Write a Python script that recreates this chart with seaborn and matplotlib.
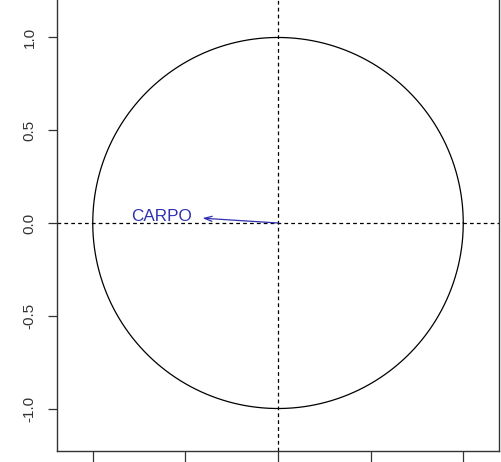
import numpy as np
import pandas as pd
import matplotlib
matplotlib.use("Agg")
import matplotlib.pyplot as plt
import seaborn as sns

# Data
variables = ["CARPO"]
dim1 = [-0.408]
dim2 = [0.026]
xticks = [-1.0, -0.5, 0.0, 0.5, 1.0]
yticks = [-1.0, -0.5, 0.0, 0.5, 1.0]
ytick_labels = ["-1.0", "-0.5", "0.0", "0.5", "1.0"]

sns.set_style("white")
plt.rcParams['font.family'] = ['Liberation Sans', 'DejaVu Sans']

fig = plt.figure(figsize=(5.01, 4.62), dpi=100)
ax = fig.add_axes([57/501, 11/462, (499-57)/501, 1 - 11/462])

# unit circle
theta = np.linspace(0, 2*np.pi, 400)
circle = pd.DataFrame({"x": np.cos(theta), "y": np.sin(theta)})
sns.lineplot(data=circle, x="x", y="y", sort=False, estimator=None,
             color="black", lw=0.9, ax=ax)

ax.axhline(0, color="black", lw=0.9, ls=(0, (3, 2.5)))
ax.axvline(0, color="black", lw=0.9, ls=(0, (3, 2.5)))

blue = "#3030b0"
for name, x, y in zip(variables, dim1, dim2):
    ax.annotate("", xy=(x, y), xytext=(0, 0),
                arrowprops=dict(arrowstyle="->,head_length=0.55,head_width=0.18",
                                color=blue, lw=0.9, shrinkA=0, shrinkB=0))
    ax.text(x * 1.54, y * 1.35, name, color=blue, fontsize=12.3,
            ha="center", va="center")

ax.set_xlim(-1.193, 1.193)
ax.set_ylim(-1.229, 1.202)
ax.set_xticks(xticks)
ax.set_xticklabels([])
ax.set_yticks(yticks)
ax.set_yticklabels(ytick_labels, rotation=90, va="center", fontsize=11, color="#333333")
ax.tick_params(axis="y", length=6.5, width=0.9, pad=8, left=True, color="#333333")
ax.tick_params(axis="x", length=8, width=0.9, bottom=True, color="#333333")
ax.set_xlabel("")
ax.set_ylabel("")
for s in ["left", "right", "bottom"]:
    ax.spines[s].set_color("#333333")
    ax.spines[s].set_linewidth(1.0)
ax.spines["top"].set_visible(False)

fig.savefig("out.png", dpi=100)
